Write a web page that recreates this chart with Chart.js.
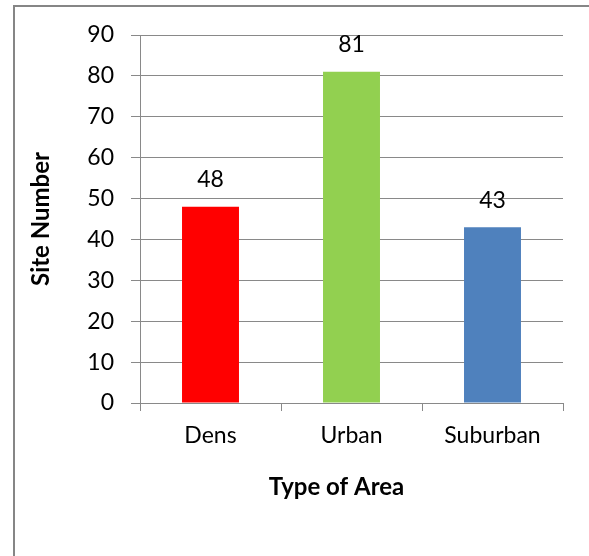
<!DOCTYPE html>
<html>
<head>
<meta charset="utf-8">
<script src="https://cdn.jsdelivr.net/npm/chart.js@4"></script>
<style>
  html, body { margin: 0; padding: 0; background: #fff; }
  #wrap { width: 589px; height: 556px; position: relative; }
</style>
</head>
<body>
<div id="wrap"><canvas id="areaChart"></canvas></div>
<script>
const categories = ['Dens', 'Urban', 'Suburban'];
const siteCounts = [48, 81, 43];
const barColors = ['#FF0000', '#92D050', '#4F81BD'];
const yTicks = [0, 10, 20, 30, 40, 50, 60, 70, 80, 90];
const xTitle = 'Type of Area';

const gridGray = '#898989';

// frame around the chart (only top and left edges are visible in the picture)
const framePlugin = {
    id: 'frame',
    beforeDraw(chart) {
        const ctx = chart.ctx;
        ctx.save();
        ctx.fillStyle = '#fff';
        ctx.fillRect(0, 0, chart.width, chart.height);
        ctx.fillStyle = '#868686';
        ctx.fillRect(13, 5, chart.width - 13, 2);
        ctx.fillRect(13, 5, 2, chart.height - 5);
        ctx.restore();
    }
};

// value labels above each bar, plus the x axis title (sits a bit left of centre)
const valueLabels = {
    id: 'valueLabels',
    afterDatasetsDraw(chart) {
        const ctx = chart.ctx;
        const meta = chart.getDatasetMeta(0);
        ctx.save();
        ctx.font = '23px Lato';
        ctx.fillStyle = '#000';
        ctx.textAlign = 'center';
        ctx.textBaseline = 'middle';
        meta.data.forEach((bar, i) => {
            ctx.fillText(String(siteCounts[i]), bar.x, bar.y - 27);
        });
        const area = chart.chartArea;
        ctx.font = 'bold 24px Lato';
        ctx.fillText(xTitle, (area.left + area.right) / 2 - 15, area.bottom + 84);
        ctx.restore();
    }
};

const ctx = document.getElementById('areaChart').getContext('2d');
new Chart(ctx, {
    type: 'bar',
    data: {
        labels: categories,
        datasets: [{
            data: siteCounts,
            backgroundColor: barColors,
            borderWidth: 0,
            categoryPercentage: 1,
            barPercentage: 0.404
        }]
    },
    options: {
        responsive: true,
        maintainAspectRatio: false,
        animation: false,
        layout: { padding: { left: 14, top: 35, right: 26, bottom: 0 } },
        plugins: {
            legend: { display: false },
            tooltip: { enabled: false }
        },
        scales: {
            x: {
                offset: true,
                grid: {
                    offset: true,
                    drawOnChartArea: false,
                    color: gridGray,
                    tickLength: 8
                },
                border: { color: gridGray, width: 1 },
                ticks: {
                    color: '#000',
                    font: { family: 'Lato', size: 23 },
                    padding: 11
                },
                title: { display: false },
                afterFit(scale) { scale.height = 153; }
            },
            y: {
                min: 0,
                max: 90,
                afterBuildTicks(scale) {
                    scale.ticks = yTicks.map(v => ({ value: v }));
                },
                grid: {
                    color: gridGray,
                    tickLength: 9
                },
                border: { color: gridGray, width: 1 },
                ticks: {
                    color: '#000',
                    font: { family: 'Lato', size: 23 },
                    padding: 17
                },
                title: {
                    display: true,
                    text: 'Site Number',
                    color: '#000',
                    font: { family: 'Lato', size: 24, weight: 'bold' },
                    padding: { top: 13, bottom: 0 }
                },
                afterFit(scale) { scale.width = 126; }
            }
        }
    },
    plugins: [framePlugin, valueLabels]
});
</script>
</body>
</html>
